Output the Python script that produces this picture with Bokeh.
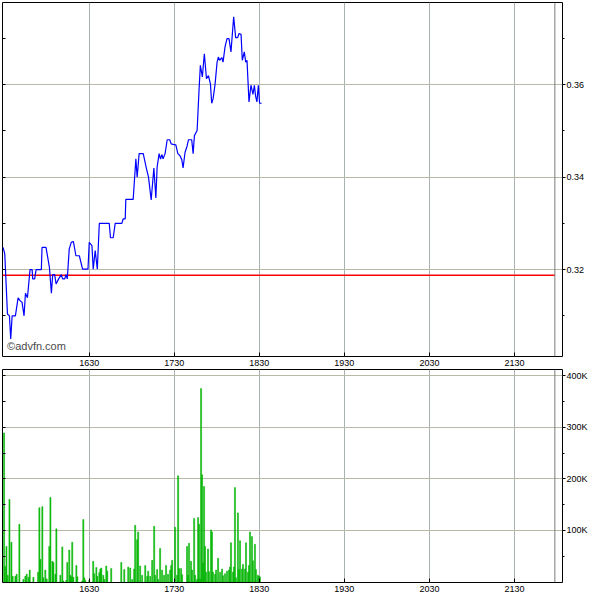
from bokeh.plotting import figure
from bokeh.models import Range1d, LinearAxis, FixedTicker, Span, Label
from bokeh.layouts import column
from bokeh.embed import file_html
from bokeh.resources import INLINE

# ---------------- data ----------------
session_open = 930          # 15:30, minutes of day
session_end = 1318.5        # end-of-session marker (minutes of day)
x_start, x_end = 928.8, 1323.9
x_tick_labels = ["1630", "1730", "1830", "1930", "2030", "2130"]

prev_close = 0.3188
price_ticks = [0.32, 0.34, 0.36]
price_minor = [0.31, 0.33, 0.35, 0.37]
price_lo, price_hi = 0.3012, 0.3778

# minutes after 15:30
price_min = [-0.8, 0.4, 2.3, 3.7, 4.6, 5.6, 7.9, 9.8, 11.2, 12.6, 14.0, 15.0, 16.4,
             18.2, 19.7, 20.1, 21.5, 22.5, 26.2, 26.7, 29.5, 31.9, 33.3, 34.2, 35.6,
             36.6, 38.4, 40.3, 41.2, 42.7, 43.6, 44.5, 45.9, 47.3, 48.8, 50.6, 53.0,
             55.3, 59.1, 60.0, 61.9, 62.8, 64.2, 65.7, 67.1, 74.1, 75.0, 76.9, 78.3,
             83.0, 84.0, 85.4, 85.8, 91.0, 92.9, 93.8, 95.2, 98.1, 100.4, 101.8, 103.7,
             105.6, 107.0, 107.9, 109.3, 110.3, 111.2, 112.1, 113.5, 115.0, 116.8,
             117.8, 119.2, 121.1, 122.5, 123.9, 125.3, 126.2, 127.6, 129.0, 130.0,
             132.3, 133.3, 134.2, 136.1, 137.5, 138.4, 139.8, 141.2, 142.7, 144.1,
             145.5, 146.4, 147.4, 148.8, 150.2, 151.1, 152.0, 153.5, 154.4, 155.8,
             157.2, 158.6, 160.0, 161.9, 163.3, 164.7, 165.7, 167.1, 168.0, 169.4,
             170.4, 171.3, 172.7, 174.1, 175.5, 176.5, 177.4, 178.3, 179.3, 180.2, 181.6]
price = [0.3248, 0.3234, 0.3104, 0.3100, 0.3050, 0.3100, 0.3100, 0.3139, 0.3133, 0.3129,
         0.3100, 0.3149, 0.3139, 0.3200, 0.3200, 0.3180, 0.3180, 0.3200, 0.3200, 0.3248,
         0.3248, 0.3205, 0.3149, 0.3189, 0.3189, 0.3169, 0.3180, 0.3189, 0.3180, 0.3180,
         0.3189, 0.3180, 0.3245, 0.3259, 0.3261, 0.3230, 0.3230, 0.3201, 0.3201, 0.3259,
         0.3252, 0.3201, 0.3241, 0.3201, 0.3300, 0.3300, 0.3269, 0.3269, 0.3300, 0.3300,
         0.3310, 0.3310, 0.3352, 0.3352, 0.3440, 0.3400, 0.3451, 0.3451, 0.3418, 0.3400,
         0.3351, 0.3420, 0.3355, 0.3422, 0.3451, 0.3439, 0.3449, 0.3440, 0.3451, 0.3481,
         0.3481, 0.3472, 0.3471, 0.3470, 0.3451, 0.3447, 0.3438, 0.3420, 0.3454, 0.3467,
         0.3481, 0.3481, 0.3451, 0.3490, 0.3501, 0.3591, 0.3642, 0.3617, 0.3667, 0.3613,
         0.3620, 0.3602, 0.3560, 0.3570, 0.3602, 0.3649, 0.3660, 0.3653, 0.3659, 0.3649,
         0.3682, 0.3700, 0.3700, 0.3671, 0.3747, 0.3702, 0.3702, 0.3711, 0.3709, 0.3653,
         0.3671, 0.3649, 0.3653, 0.3563, 0.3599, 0.3579, 0.3599, 0.3575, 0.3563, 0.3599,
         0.3560, 0.3560]

vol_ticks = [100000, 200000, 300000, 400000]
vol_tick_labels = ["100K", "200K", "300K", "400K"]
vol_minor = [50000, 150000, 250000, 350000]
vol_lo, vol_hi = -1000, 412000

vol_min = [-0.1, 0.6, 1.6, 2.5, 3.7, 5.1, 6.0, 7.9, 8.8, 10.7, 13.5, 14.9, 15.9, 17.3,
           18.0, 20.6, 23.9, 24.8, 25.5, 26.9, 27.6, 29.0, 30.0, 31.8, 32.6, 34.0, 34.7,
           36.1, 36.8, 39.6, 41.0, 41.7, 43.8, 44.5, 45.9, 46.6, 47.3, 48.0, 48.8, 50.9,
           51.6, 55.1, 55.8, 56.5, 57.2, 60.0, 62.8, 63.5, 65.0, 65.7, 67.1, 67.8, 68.5,
           69.9, 70.6, 72.0, 72.7, 75.5, 82.6, 84.7, 87.5, 88.9, 90.3, 91.7, 92.4, 93.8,
           94.5, 95.9, 97.3, 99.5, 100.9, 101.6, 103.0, 104.4, 105.8, 106.5, 107.9, 108.6,
           110.0, 111.4, 112.8, 114.2, 115.6, 117.1, 117.8, 118.5, 120.6, 122.0, 122.7,
           123.4, 124.8, 125.5, 129.0, 129.7, 130.4, 131.8, 132.6, 134.0, 134.7, 136.1,
           136.8, 137.5, 138.2, 138.9, 139.6, 140.3, 141.0, 141.7, 142.4, 143.8, 144.5,
           145.9, 146.6, 147.3, 148.8, 149.5, 150.9, 152.3, 153.7, 154.4, 155.8, 157.2,
           158.6, 159.3, 160.0, 161.4, 162.1, 162.8, 163.5, 164.9, 165.6, 166.4, 167.8,
           168.5, 169.9, 170.6, 172.0, 172.7, 173.4, 174.8, 175.5, 176.9, 177.6, 179.0,
           179.7, 180.4]
vol_k = [289, 30, 69, 13, 160, 77, 11, 11, 15, 112, 5, 11, 15, 9, 23, 9, 19, 144, 44, 146,
         8, 23, 6, 69, 164, 40, 38, 15, 103, 13, 68, 2, 3, 38, 62, 13, 10, 77, 9, 32, 10,
         2, 121, 8, 3, 3, 40, 16, 28, 11, 18, 25, 27, 13, 5, 31, 21, 26, 38, 24, 29, 27,
         5, 25, 110, 82, 97, 31, 13, 32, 11, 21, 11, 42, 108, 13, 24, 5, 65, 23, 13, 32,
         15, 23, 32, 42, 106, 13, 206, 26, 26, 14, 69, 13, 75, 40, 23, 123, 13, 5, 125,
         112, 6, 375, 208, 37, 185, 69, 19, 64, 20, 101, 97, 19, 15, 23, 46, 19, 25, 12,
         16, 21, 23, 29, 76, 19, 29, 183, 8, 134, 24, 80, 25, 34, 25, 76, 19, 32, 97, 88,
         41, 73, 24, 13, 11, 10]

# ---------------- derived ----------------
x_ticks = [int(s[:2]) * 60 + int(s[2:]) for s in x_tick_labels]
x_overrides = dict(zip(x_ticks, x_tick_labels))
px = [session_open + m for m in price_min]
vx = [session_open + m for m in vol_min]
vols = [v * 1000 for v in vol_k]

FONT = "Liberation Sans"
FS = "9px"
HGRID = "#b9b9a8"
VGRID = "#a9b2b2"


def style_common(p):
    p.xaxis.ticker = FixedTicker(ticks=x_ticks, minor_ticks=[])
    p.xaxis.major_label_overrides = x_overrides
    p.xaxis.major_tick_in = 4
    p.xaxis.major_tick_out = 0
    p.xaxis.minor_tick_line_color = None
    p.xaxis.axis_line_color = None
    p.xaxis.major_tick_line_color = "black"
    p.xaxis.major_label_text_font = FONT
    p.xaxis.major_label_text_font_size = FS
    p.xaxis.major_label_text_color = "black"
    p.xaxis.major_label_standoff = 3
    p.xgrid.grid_line_color = VGRID
    p.ygrid.grid_line_color = HGRID
    p.outline_line_color = "black"
    p.outline_line_width = 1
    p.background_fill_color = "white"
    p.border_fill_color = "white"


def add_left_ticks(p, ticks, minor):
    ax = LinearAxis(ticker=FixedTicker(ticks=ticks, minor_ticks=minor),
                    major_label_overrides={t: "" for t in ticks},
                    major_label_text_font_size="0px", major_label_standoff=0,
                    major_tick_in=3, major_tick_out=0, minor_tick_in=3, minor_tick_out=0,
                    axis_line_color=None)
    p.add_layout(ax, "left")


def style_right(p, ticks, minor, overrides=None):
    ax = p.yaxis[0]
    ax.ticker = FixedTicker(ticks=ticks, minor_ticks=minor)
    if overrides:
        ax.major_label_overrides = overrides
    ax.major_tick_in = 0
    ax.major_tick_out = 3
    ax.minor_tick_in = 0
    ax.minor_tick_out = 2
    ax.axis_line_color = None
    ax.major_label_standoff = 1
    ax.major_label_text_font = FONT
    ax.major_label_text_font_size = FS
    ax.major_label_text_color = "black"


x_range = Range1d(x_start, x_end)

# ---- price panel ----
p1 = figure(frame_width=560, frame_height=354, x_range=x_range,
            y_range=Range1d(price_lo, price_hi), y_axis_location="right",
            output_backend="svg", toolbar_location=None,
            min_border_left=0, min_border_top=0, min_border_bottom=0, min_border_right=0)
style_common(p1)
style_right(p1, price_ticks, price_minor)
add_left_ticks(p1, price_ticks, price_minor)
p1.add_layout(Span(location=session_end, dimension="height", line_color="#7a7a7a", line_width=1))
p1.segment(x0=x_start, x1=session_end, y0=prev_close, y1=prev_close, line_color="#ff0000", line_width=1.5)
p1.line(px, price, line_color="#0000ff", line_width=1.2)
p1.add_layout(Label(x=x_start + 3.2, y=price_lo + 0.0010, text="©advfn.com", text_font=FONT,
                    text_font_size="11px", text_color="#4a4a4a"))

# ---- volume panel ----
p2 = figure(frame_width=560, frame_height=213, x_range=x_range,
            y_range=Range1d(vol_lo, vol_hi), y_axis_location="right",
            output_backend="svg", toolbar_location=None,
            min_border_left=0, min_border_top=1, min_border_bottom=0, min_border_right=0)
style_common(p2)
style_right(p2, vol_ticks, vol_minor, dict(zip(vol_ticks, vol_tick_labels)))
add_left_ticks(p2, vol_ticks, vol_minor)
p2.add_layout(Span(location=session_end, dimension="height", line_color="#7a7a7a", line_width=1))
p2.vbar(x=vx, top=vols, bottom=0, width=0.75, fill_color="#00c800", line_color="#00a800", line_width=0.5)

layout = column(p1, p2, spacing=0, margin=(2, 0, -14, 2))
open("out.html", "w").write(file_html(layout, INLINE))
